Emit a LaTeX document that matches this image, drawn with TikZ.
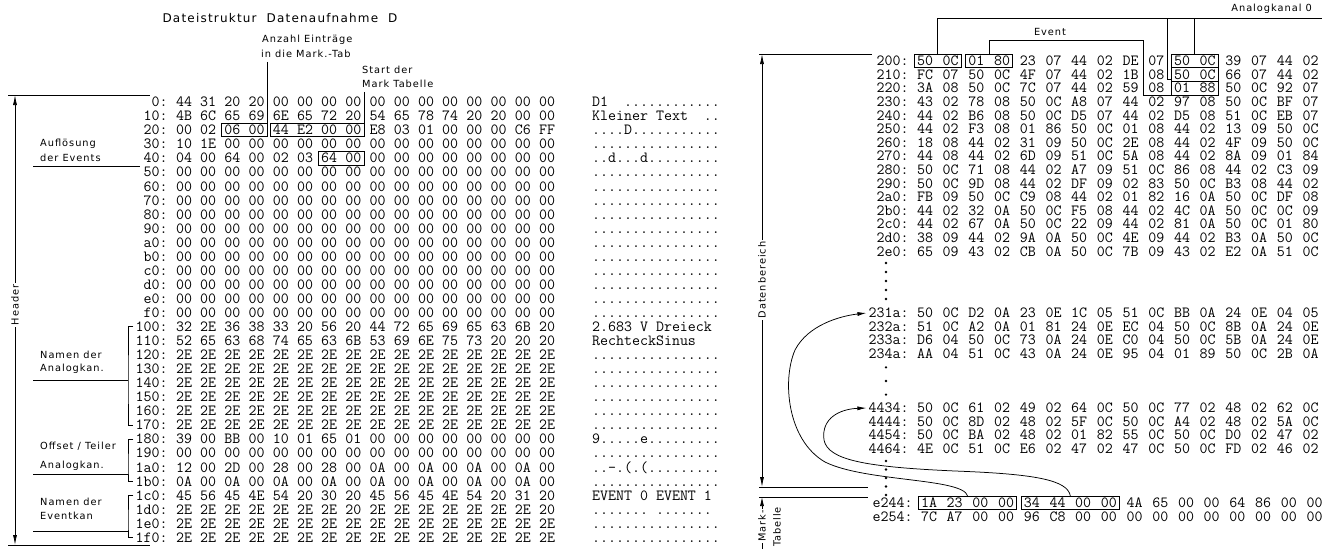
\documentclass[tikz,border=0pt]{standalone}
\usepackage{fontspec}
\newfontfamily\labfont[LetterSpace=10]{DejaVu Sans}
\usetikzlibrary{arrows.meta,calc,fit}
\newcommand\hxcw{8.14}
\newcommand\lyy[1]{102+14.05*#1}
\newcommand\ryy[1]{61+13.6*#1}
\newcommand\hxzero{00,00,00,00,00,00,00,00,00,00,00,00,00,00,00,00}
\newcommand\hxdots{2E,2E,2E,2E,2E,2E,2E,2E,2E,2E,2E,2E,2E,2E,2E,2E}
\newcommand\asdots{................}
\newcommand\hexrowL[5]{%
  \edef\hxlist{#4}%
  \node[hexl] (#1l) at ({184-2*\hxcw},{#2}) {#3};
  \foreach \b [count=\i from 0] in \hxlist {\node[hex] (#1-\i) at ({184+24.2*\i},{#2}) {\b};}
  \node[asc] (#1a) at (592,{#2}) {#5};
}
\newcommand\hexrowR[5]{%
  \edef\hxlist{#5}%
  \node[hexl] (#1l) at ({#2-2*\hxcw},{#3}) {#4};
  \foreach \b [count=\i from 0] in \hxlist {\node[hex] (#1-\i) at ({#2+25.7*\i},{#3}) {\b};}
}
\newcommand\bytebox[3]{\node[bx, fit=(#2)(#3)] (#1) {};}
\begin{document}
\begin{tikzpicture}[x=1pt,y=-1pt,
  hex/.style={font={\ttfamily\addfontfeatures{FakeBold=1.5}\fontsize{15.5}{16}\selectfont}, inner sep=0pt, text height=9.47pt, text depth=0pt},
  hexl/.style={hex, anchor=east},
  asc/.style={hex, anchor=west},
  lab/.style={font={\labfont\fontsize{9.8}{11}\selectfont}, inner sep=0pt},
  titl/.style={font={\labfont\fontsize{12}{13}\selectfont}, inner sep=0pt},
  ln/.style={line width=0.75pt},
  bx/.style={draw, line width=0.85pt, inner xsep=2.4pt, inner ysep=1.8pt},
  arr/.style={-{Latex[length=9pt,width=4pt]}},
  arrb/.style={{Latex[length=10pt,width=4pt]}-{Latex[length=10pt,width=4pt]}},
  vlab/.style={lab, rotate=90, fill=white, inner sep=2pt}
]
\fill[white] (0,0) rectangle (1326,549);
\useasboundingbox (0,0) rectangle (1326,549);

% ---------------- left panel ----------------
\node[titl] (title) at (280,18) {Dateistruktur\ \ Datenaufnahme\ \ D};

\hexrowL{r0}{\lyy{0}}{0:}{44,31,20,20,00,00,00,00,00,00,00,00,00,00,00,00}{D1\ \ ............}
\hexrowL{r1}{\lyy{1}}{10:}{4B,6C,65,69,6E,65,72,20,54,65,78,74,20,20,00,00}{Kleiner Text\ \ ..}
\hexrowL{r2}{\lyy{2}}{20:}{00,02,06,00,44,E2,00,00,E8,03,01,00,00,00,C6,FF}{....D...........}
\hexrowL{r3}{\lyy{3}}{30:}{10,1E,00,00,00,00,00,00,00,00,00,00,00,00,00,00}{\asdots}
\hexrowL{r4}{\lyy{4}}{40:}{04,00,64,00,02,03,64,00,00,00,00,00,00,00,00,00}{..d...d.........}
\hexrowL{r5}{\lyy{5}}{50:}{\hxzero}{\asdots}
\hexrowL{r6}{\lyy{6}}{60:}{\hxzero}{\asdots}
\hexrowL{r7}{\lyy{7}}{70:}{\hxzero}{\asdots}
\hexrowL{r8}{\lyy{8}}{80:}{\hxzero}{\asdots}
\hexrowL{r9}{\lyy{9}}{90:}{\hxzero}{\asdots}
\hexrowL{r10}{\lyy{10}}{a0:}{\hxzero}{\asdots}
\hexrowL{r11}{\lyy{11}}{b0:}{\hxzero}{\asdots}
\hexrowL{r12}{\lyy{12}}{c0:}{\hxzero}{\asdots}
\hexrowL{r13}{\lyy{13}}{d0:}{\hxzero}{\asdots}
\hexrowL{r14}{\lyy{14}}{e0:}{\hxzero}{\asdots}
\hexrowL{r15}{\lyy{15}}{f0:}{\hxzero}{\asdots}
\hexrowL{r16}{\lyy{16}}{100:}{32,2E,36,38,33,20,56,20,44,72,65,69,65,63,6B,20}{2.683 V Dreieck}
\hexrowL{r17}{\lyy{17}}{110:}{52,65,63,68,74,65,63,6B,53,69,6E,75,73,20,20,20}{RechteckSinus}
\hexrowL{r18}{\lyy{18}}{120:}{\hxdots}{\asdots}
\hexrowL{r19}{\lyy{19}}{130:}{\hxdots}{\asdots}
\hexrowL{r20}{\lyy{20}}{140:}{\hxdots}{\asdots}
\hexrowL{r21}{\lyy{21}}{150:}{\hxdots}{\asdots}
\hexrowL{r22}{\lyy{22}}{160:}{\hxdots}{\asdots}
\hexrowL{r23}{\lyy{23}}{170:}{\hxdots}{\asdots}
\hexrowL{r24}{\lyy{24}}{180:}{39,00,BB,00,10,01,65,01,00,00,00,00,00,00,00,00}{9.....e.........}
\hexrowL{r25}{\lyy{25}}{190:}{\hxzero}{\asdots}
\hexrowL{r26}{\lyy{26}}{1a0:}{12,00,2D,00,28,00,28,00,0A,00,0A,00,0A,00,0A,00}{..-.(.(.........}
\hexrowL{r27}{\lyy{27}}{1b0:}{0A,00,0A,00,0A,00,0A,00,0A,00,0A,00,0A,00,0A,00}{\asdots}
\hexrowL{r28}{\lyy{28}}{1c0:}{45,56,45,4E,54,20,30,20,45,56,45,4E,54,20,31,20}{EVENT 0 EVENT 1}
\hexrowL{r29}{\lyy{29}}{1d0:}{2E,2E,2E,2E,2E,2E,2E,20,2E,2E,2E,2E,2E,2E,2E,20}{.......\ .......}
\hexrowL{r30}{\lyy{30}}{1e0:}{\hxdots}{\asdots}
\hexrowL{r31}{\lyy{31}}{1f0:}{\hxdots}{\asdots}

% boxes left
\bytebox{bA}{r2-2}{r2-3}
\bytebox{bB}{r2-4}{r2-7}
\bytebox{bC}{r4-6}{r4-7}

% pointer labels top
\node[lab, anchor=west] (anz1) at (262,40) {Anzahl Einträge};
\node[lab, anchor=west] (anz2) at (261,54) {in die Mark.-Tab};
\node[lab, anchor=west] (st1) at (362,70) {Start der};
\node[lab, anchor=west] (st2) at (362,84) {Mark Tabelle};
\draw[ln] ($(bA.north east |- anz2.south)+(0,4)$) -- (bA.north east);
\draw[ln] ($(bB.north east |- st2.south)+(0,4)$) -- (bB.north east);

% header arrow
\coordinate (ht) at (15,95);
\coordinate (hb) at (15,545);
\draw[ln] (8,95) -- (150,95);
\draw[ln] (8,545) -- (150,545);
\draw[ln,arrb] (ht) -- (hb);
\node[vlab] (hdr) at (15,305) {Header};

% side labels left
\node[lab, anchor=west] (auf1) at (40,{\lyy{3}}) {Auflösung};
\node[lab, anchor=west] (auf2) at (40,{\lyy{4}}) {der Events};
\draw[ln] (33,{\lyy{4}+8}) -- (140,{\lyy{4}+8});

\node[lab, anchor=west] (na1) at (40,{\lyy{18}}) {Namen der};
\node[lab, anchor=west] (na2) at (40,{\lyy{19}}) {Analogkan.};
\draw[ln] ([xshift=-2pt]r16l.west) -| (128,{\lyy{20}}) |- ([xshift=-2pt]r23l.west);
\draw[ln] (33,{\lyy{19}+11}) -- (128,{\lyy{19}+11});

\node[lab, anchor=west] (of1) at (40,{\lyy{24}+7}) {Offset / Teiler};
\node[lab, anchor=west] (of2) at (40,{\lyy{26}-2}) {Analogkan.};
\draw[ln] ([xshift=-2pt]r24l.west) -| (128,{\lyy{26}}) |- ([xshift=-2pt]r27l.west);
\draw[ln] (33,{\lyy{26}+7}) -- (128,{\lyy{26}+7});

\node[lab, anchor=west] (ne1) at (40,{\lyy{28}+6}) {Namen der};
\node[lab, anchor=west] (ne2) at (40,{\lyy{29}+6}) {Eventkan};
\draw[ln] ([xshift=-2pt]r28l.west) -| (128,{\lyy{30}}) |- ([xshift=-2pt]r31l.west);
\draw[ln] (33,{\lyy{30}+8}) -- (128,{\lyy{30}+8});

% ---------------- right panel ----------------
\hexrowR{q0}{925}{\ryy{0}}{200:}{50,0C,01,80,23,07,44,02,DE,07,50,0C,39,07,44,02}
\hexrowR{q1}{925}{\ryy{1}}{210:}{FC,07,50,0C,4F,07,44,02,1B,08,50,0C,66,07,44,02}
\hexrowR{q2}{925}{\ryy{2}}{220:}{3A,08,50,0C,7C,07,44,02,59,08,01,88,50,0C,92,07}
\hexrowR{q3}{925}{\ryy{3}}{230:}{43,02,78,08,50,0C,A8,07,44,02,97,08,50,0C,BF,07}
\hexrowR{q4}{925}{\ryy{4}}{240:}{44,02,B6,08,50,0C,D5,07,44,02,D5,08,51,0C,EB,07}
\hexrowR{q5}{925}{\ryy{5}}{250:}{44,02,F3,08,01,86,50,0C,01,08,44,02,13,09,50,0C}
\hexrowR{q6}{925}{\ryy{6}}{260:}{18,08,44,02,31,09,50,0C,2E,08,44,02,4F,09,50,0C}
\hexrowR{q7}{925}{\ryy{7}}{270:}{44,08,44,02,6D,09,51,0C,5A,08,44,02,8A,09,01,84}
\hexrowR{q8}{925}{\ryy{8}}{280:}{50,0C,71,08,44,02,A7,09,51,0C,86,08,44,02,C3,09}
\hexrowR{q9}{925}{\ryy{9}}{290:}{50,0C,9D,08,44,02,DF,09,02,83,50,0C,B3,08,44,02}
\hexrowR{q10}{925}{\ryy{10}}{2a0:}{FB,09,50,0C,C9,08,44,02,01,82,16,0A,50,0C,DF,08}
\hexrowR{q11}{925}{\ryy{11}}{2b0:}{44,02,32,0A,50,0C,F5,08,44,02,4C,0A,50,0C,0C,09}
\hexrowR{q12}{925}{\ryy{12}}{2c0:}{44,02,67,0A,50,0C,22,09,44,02,81,0A,50,0C,01,80}
\hexrowR{q13}{925}{\ryy{13}}{2d0:}{38,09,44,02,9A,0A,50,0C,4E,09,44,02,B3,0A,50,0C}
\hexrowR{q14}{925}{\ryy{14}}{2e0:}{65,09,43,02,CB,0A,50,0C,7B,09,43,02,E2,0A,51,0C}
\hexrowR{s0}{925}{313}{231a:}{50,0C,D2,0A,23,0E,1C,05,51,0C,BB,0A,24,0E,04,05}
\hexrowR{s1}{925}{326.6}{232a:}{51,0C,A2,0A,01,81,24,0E,EC,04,50,0C,8B,0A,24,0E}
\hexrowR{s2}{925}{340.2}{233a:}{D6,04,50,0C,73,0A,24,0E,C0,04,50,0C,5B,0A,24,0E}
\hexrowR{s3}{925}{353.8}{234a:}{AA,04,51,0C,43,0A,24,0E,95,04,01,89,50,0C,2B,0A}
\hexrowR{t0}{925}{408}{4434:}{50,0C,61,02,49,02,64,0C,50,0C,77,02,48,02,62,0C}
\hexrowR{t1}{925}{421.6}{4444:}{50,0C,8D,02,48,02,5F,0C,50,0C,A4,02,48,02,5A,0C}
\hexrowR{t2}{925}{435.2}{4454:}{50,0C,BA,02,48,02,01,82,55,0C,50,0C,D0,02,47,02}
\hexrowR{t3}{925}{448.8}{4464:}{4E,0C,51,0C,E6,02,47,02,47,0C,50,0C,FD,02,46,02}
\hexrowR{u0}{929}{503}{e244:}{1A,23,00,00,34,44,00,00,4A,65,00,00,64,86,00,00}
\hexrowR{u1}{929}{517}{e254:}{7C,A7,00,00,96,C8,00,00,00,00,00,00,00,00,00,00}

% boxes right
\bytebox{bq0a}{q0-0}{q0-1}
\bytebox{bq0b}{q0-2}{q0-3}
\bytebox{bq0c}{q0-10}{q0-11}
\bytebox{bq1c}{q1-10}{q1-11}
\bytebox{bq2c}{q2-10}{q2-11}
\bytebox{bu0a}{u0-0}{u0-3}
\bytebox{bu0b}{u0-4}{u0-7}

% Analogkanal 0 pointer
\node[lab, anchor=east] (ank) at (1312,9) {Analogkanal 0};
\coordinate (an) at (1322,18);
\draw[ln] (bq0a.north) |- (an);
\draw[ln] (bq0c.north) -- (bq0c.north |- an);
\coordinate (anL) at ($(bq1c.south west)+(-3.5,-2.5)$);
\draw[ln] (anL |- an) -- (anL) -- (anL -| bq1c.west);

% Event pointer
\node[lab] (evt) at (1050,32) {Event};
\coordinate (evy) at (1000,40);
\coordinate (evx) at ($(q2-8.east)!0.5!(q2-9.west)$);
\draw[ln] (bq0b.north) |- (evx |- evy) -- (evx |- bq2c.south) -- (bq2c.south west);

% Datenbereich
\coordinate (dt) at (762,54);
\coordinate (db) at (762,487);
\draw[ln] (759,54) -- (872,54);
\draw[ln] (759,487) -- (868,487);
\draw[ln] (759,497) -- (868,497);
\draw[ln,arrb] (dt) -- (db);
\node[vlab] (datb) at (762,280) {Datenbereich};

% Mark-Tabelle
\coordinate (mt) at (762,497);
\coordinate (mb) at (762,549);
\draw[ln,arr] (mb) -- (mt);
\node[vlab, inner sep=1.5pt] (mk1) at (762,526) {Mark-};
\node[lab, rotate=90] (mk2) at (777,527) {Tabelle};

% continuation dots
\foreach \yy in {263,272,281,290,299} \fill (886,\yy) circle (1.3);
\foreach \yy in {367.4,381,394.6} \fill (886,\yy) circle (1.3);
\foreach \yy in {461,469.5,478,486.5,495} \fill (886,\yy) circle (1.3);

% curved pointers from the mark table
\draw[ln,arr] (bu0a.north) .. controls +(-5,-18) and (865,482) .. (825,462)
  .. controls (787,440) and (782,380) .. (795,350)
  .. controls (808,325) and (840,316) .. ([xshift=-2pt]s0l.west);
\draw[ln,arr] (bu0b.north) .. controls +(-3,-16) and (1035,474) .. (955,471)
  .. controls (865,467) and (828,460) .. (824,440)
  .. controls (821,418) and (840,409) .. ([xshift=-2pt]t0l.west);
\end{tikzpicture}
\end{document}
